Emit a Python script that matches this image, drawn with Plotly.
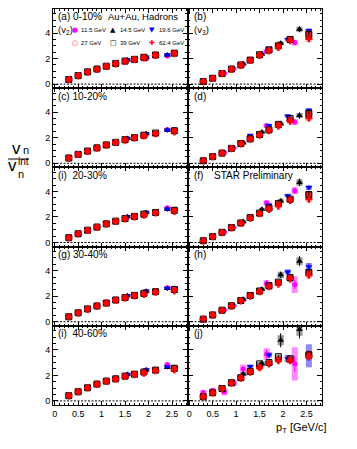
import plotly.graph_objects as go
from plotly.subplots import make_subplots

# pT bin centres (GeV/c)
PT2_LO = [0.3, 0.5, 0.7, 0.9, 1.1, 1.3, 1.55, 1.95, 2.4]          # v2: 11.5, 14.5, 19.6 GeV
PT2_HI = [0.3, 0.5, 0.7, 0.9, 1.1, 1.3, 1.5, 1.7, 1.9, 2.15, 2.55]  # v2: 27, 39, 62.4 GeV
PT3_115 = [0.3, 0.5, 0.75, 0.95, 1.15, 1.65, 2.25]
PT3_145 = [0.3, 0.5, 0.7, 0.9, 1.15, 1.55, 1.95, 2.35]
PT3_196 = [0.3, 0.5, 0.7, 0.9, 1.1, 1.3, 1.7, 2.1, 2.55]
PT3_HI = [0.3, 0.5, 0.7, 0.9, 1.1, 1.3, 1.5, 1.7, 1.9, 2.15, 2.55]

CENTRALITY = ["0-10%", "10-20%", "20-30%", "30-40%", "40-60%"]

# v2/v2int, one list per centrality
V2_115 = [[0.37, 0.66, 0.94, 1.17, 1.38, 1.58, 1.86, 1.97, 2.20],
          [0.43, 0.70, 0.96, 1.20, 1.43, 1.64, 1.93, 2.30, 2.65],
          [0.40, 0.69, 0.97, 1.21, 1.45, 1.66, 2.00, 2.33, 2.72],
          [0.40, 0.70, 1.00, 1.23, 1.46, 1.69, 2.02, 2.37, 2.66],
          [0.43, 0.74, 1.04, 1.33, 1.55, 1.75, 2.05, 2.42, 2.85]]
V2_145 = [[0.36, 0.66, 0.95, 1.18, 1.39, 1.60, 1.88, 2.08, 2.28],
          [0.42, 0.70, 0.95, 1.21, 1.44, 1.65, 1.95, 2.31, 2.58],
          [0.39, 0.68, 0.97, 1.21, 1.46, 1.67, 2.02, 2.34, 2.60],
          [0.40, 0.70, 1.00, 1.24, 1.47, 1.70, 2.04, 2.38, 2.60],
          [0.42, 0.73, 1.04, 1.33, 1.56, 1.75, 2.07, 2.42, 2.62]]
V2_196 = [[0.36, 0.66, 0.95, 1.18, 1.40, 1.61, 1.90, 2.12, 2.30],
          [0.42, 0.70, 0.96, 1.21, 1.44, 1.65, 1.96, 2.33, 2.60],
          [0.40, 0.69, 0.97, 1.21, 1.46, 1.68, 2.03, 2.36, 2.63],
          [0.40, 0.70, 1.00, 1.24, 1.47, 1.70, 2.05, 2.40, 2.62],
          [0.42, 0.73, 1.04, 1.33, 1.56, 1.76, 2.08, 2.44, 2.67]]
V2_27 = [[0.35, 0.66, 0.95, 1.18, 1.39, 1.60, 1.80, 1.93, 2.08, 2.28, 2.44],
         [0.42, 0.70, 0.95, 1.21, 1.44, 1.64, 1.84, 2.00, 2.18, 2.36, 2.56],
         [0.38, 0.68, 0.96, 1.20, 1.46, 1.67, 1.88, 2.04, 2.20, 2.36, 2.55],
         [0.39, 0.70, 1.00, 1.24, 1.47, 1.70, 1.88, 2.06, 2.20, 2.36, 2.56],
         [0.41, 0.72, 1.03, 1.32, 1.55, 1.74, 1.94, 2.10, 2.24, 2.42, 2.58]]
V2_39 = [[0.36, 0.67, 0.96, 1.18, 1.40, 1.62, 1.80, 1.94, 2.10, 2.28, 2.42],
         [0.41, 0.70, 0.96, 1.21, 1.44, 1.64, 1.85, 2.01, 2.20, 2.37, 2.55],
         [0.38, 0.69, 0.96, 1.21, 1.46, 1.67, 1.88, 2.04, 2.22, 2.35, 2.52],
         [0.39, 0.70, 1.00, 1.23, 1.46, 1.70, 1.89, 2.06, 2.22, 2.35, 2.52],
         [0.41, 0.72, 1.03, 1.32, 1.55, 1.73, 1.94, 2.09, 2.26, 2.41, 2.55]]
V2_624 = [[0.35, 0.65, 0.94, 1.16, 1.38, 1.59, 1.78, 1.92, 2.06, 2.26, 2.38],
          [0.41, 0.69, 0.94, 1.19, 1.42, 1.63, 1.82, 1.98, 2.14, 2.32, 2.46],
          [0.37, 0.67, 0.95, 1.19, 1.44, 1.65, 1.85, 2.01, 2.15, 2.31, 2.44],
          [0.38, 0.69, 0.99, 1.22, 1.45, 1.68, 1.86, 2.03, 2.14, 2.31, 2.42],
          [0.40, 0.71, 1.02, 1.30, 1.53, 1.71, 1.91, 2.06, 2.18, 2.36, 2.42]]

# v3/v3int, one list per centrality
V3_115 = [[0.20, 0.45, 0.85, 1.20, 1.55, 2.55, 3.25],
          [0.20, 0.50, 0.85, 1.20, 1.60, 2.95, 3.24],
          [0.16, 0.46, 0.82, 1.18, 1.58, 3.10, 4.05],
          [0.20, 0.55, 0.92, 1.25, 1.72, 3.00, 2.90],
          [0.65, 0.84, 0.70, 1.40, 2.50, 3.67, 2.90]]
V3_145 = [[0.20, 0.45, 0.83, 1.17, 1.60, 2.35, 3.20, 4.30],
          [0.20, 0.53, 0.80, 1.17, 1.60, 2.45, 3.10, 3.74],
          [0.15, 0.46, 0.80, 1.17, 1.65, 2.60, 3.25, 4.70],
          [0.20, 0.53, 0.90, 1.25, 1.75, 2.55, 3.67, 4.74],
          [0.33, 0.64, 0.97, 1.35, 2.10, 2.90, 4.75, 5.60]]
V3_196 = [[0.20, 0.45, 0.83, 1.17, 1.50, 2.00, 2.80, 3.50, 4.20],
          [0.20, 0.53, 0.80, 1.17, 1.55, 2.20, 2.96, 3.70, 4.16],
          [0.15, 0.46, 0.80, 1.17, 1.55, 2.00, 2.93, 3.67, 4.30],
          [0.20, 0.53, 0.90, 1.25, 1.68, 2.20, 2.95, 3.90, 4.30],
          [0.33, 0.64, 0.97, 1.44, 1.85, 2.70, 3.60, 3.30, 3.54]]
V3_27 = [[0.20, 0.45, 0.82, 1.17, 1.50, 1.88, 2.28, 2.65, 3.00, 3.45, 3.95],
         [0.20, 0.53, 0.80, 1.17, 1.55, 1.93, 2.23, 2.60, 3.00, 3.40, 3.85],
         [0.14, 0.46, 0.80, 1.17, 1.53, 1.94, 2.30, 2.68, 3.00, 3.35, 3.77],
         [0.20, 0.53, 0.88, 1.25, 1.65, 2.05, 2.40, 2.80, 3.05, 3.40, 3.80],
         [0.33, 0.64, 0.97, 1.44, 1.82, 2.30, 2.64, 2.95, 3.23, 3.20, 3.67]]
V3_39 = [[0.20, 0.46, 0.83, 1.18, 1.50, 1.88, 2.30, 2.68, 3.00, 3.50, 3.90],
         [0.20, 0.52, 0.80, 1.17, 1.55, 1.92, 2.25, 2.62, 3.05, 3.50, 3.90],
         [0.14, 0.46, 0.80, 1.17, 1.53, 1.95, 2.30, 2.70, 3.05, 3.40, 3.75],
         [0.20, 0.53, 0.90, 1.25, 1.66, 2.05, 2.40, 2.80, 3.10, 3.45, 3.85],
         [0.33, 0.64, 0.97, 1.42, 1.82, 2.30, 2.90, 3.00, 3.46, 3.30, 3.60]]
V3_624 = [[0.20, 0.44, 0.82, 1.15, 1.47, 1.85, 2.25, 2.60, 2.87, 3.40, 3.55],
          [0.20, 0.52, 0.79, 1.15, 1.52, 1.90, 2.20, 2.55, 2.90, 3.30, 3.55],
          [0.13, 0.45, 0.78, 1.15, 1.50, 1.90, 2.25, 2.60, 2.85, 3.30, 3.40],
          [0.20, 0.52, 0.88, 1.22, 1.63, 2.00, 2.35, 2.75, 2.95, 3.35, 3.65],
          [0.32, 0.62, 0.95, 1.40, 1.78, 2.25, 2.60, 2.90, 3.15, 3.15, 3.46]]

# statistical errors and half heights of the systematic boxes
ERR2_LO = [0.02, 0.02, 0.03, 0.03, 0.04, 0.05, 0.06, 0.08, 0.12]
SYS2_LO = [0.05, 0.05, 0.06, 0.06, 0.07, 0.08, 0.09, 0.10, 0.12]
ERR2_HI = [0.01, 0.01, 0.02, 0.02, 0.02, 0.03, 0.03, 0.04, 0.05, 0.06, 0.08]
SYS2_HI = [0.10, 0.10, 0.10, 0.11, 0.11, 0.11, 0.12, 0.12, 0.13, 0.14, 0.15]
ERR3_HI = [0.02, 0.02, 0.03, 0.04, 0.05, 0.06, 0.07, 0.09, 0.11, 0.14, 0.18]
SYS3_HI = [0.09, 0.09, 0.10, 0.11, 0.12, 0.13, 0.14, 0.16, 0.18, 0.21, 0.25]
ERR3_115 = [[0.04, 0.05, 0.07, 0.08, 0.10, 0.15, 0.20],
            [0.04, 0.05, 0.07, 0.08, 0.10, 0.15, 0.20],
            [0.04, 0.05, 0.07, 0.08, 0.10, 0.18, 0.25],
            [0.05, 0.06, 0.08, 0.10, 0.12, 0.25, 0.35],
            [0.10, 0.10, 0.12, 0.15, 0.20, 0.35, 0.60]]
SYS3_115 = [[0.06, 0.07, 0.08, 0.10, 0.12, 0.18, 0.22],
            [0.06, 0.07, 0.08, 0.10, 0.12, 0.18, 0.22],
            [0.06, 0.07, 0.08, 0.10, 0.12, 0.22, 0.28],
            [0.08, 0.08, 0.10, 0.12, 0.15, 0.25, 0.65],
            [0.20, 0.15, 0.25, 0.25, 0.35, 0.45, 1.30]]
ERR3_145 = [[0.03, 0.04, 0.05, 0.06, 0.08, 0.10, 0.15, 0.25],
            [0.03, 0.04, 0.05, 0.06, 0.08, 0.10, 0.15, 0.25],
            [0.03, 0.04, 0.05, 0.06, 0.08, 0.12, 0.18, 0.30],
            [0.04, 0.05, 0.06, 0.08, 0.10, 0.15, 0.25, 0.40],
            [0.06, 0.07, 0.08, 0.10, 0.15, 0.25, 0.55, 0.70]]
SYS3_145 = [[0.05, 0.06, 0.07, 0.08, 0.10, 0.12, 0.15, 0.20],
            [0.05, 0.06, 0.07, 0.08, 0.10, 0.12, 0.15, 0.20],
            [0.05, 0.06, 0.07, 0.08, 0.10, 0.12, 0.18, 0.25],
            [0.06, 0.07, 0.08, 0.10, 0.12, 0.15, 0.25, 0.30],
            [0.08, 0.08, 0.10, 0.12, 0.15, 0.20, 0.40, 0.50]]
ERR3_196 = [[0.03, 0.04, 0.05, 0.06, 0.07, 0.08, 0.10, 0.12, 0.15],
            [0.03, 0.04, 0.05, 0.06, 0.07, 0.08, 0.10, 0.12, 0.15],
            [0.03, 0.04, 0.05, 0.06, 0.07, 0.08, 0.10, 0.12, 0.18],
            [0.04, 0.05, 0.06, 0.07, 0.08, 0.10, 0.12, 0.15, 0.25],
            [0.05, 0.06, 0.07, 0.08, 0.10, 0.12, 0.15, 0.20, 0.40]]
SYS3_196 = [[0.05, 0.06, 0.07, 0.08, 0.09, 0.10, 0.12, 0.14, 0.16],
            [0.05, 0.06, 0.07, 0.08, 0.09, 0.10, 0.12, 0.14, 0.16],
            [0.05, 0.06, 0.07, 0.08, 0.09, 0.10, 0.12, 0.15, 0.18],
            [0.06, 0.07, 0.08, 0.09, 0.10, 0.12, 0.15, 0.20, 0.30],
            [0.08, 0.08, 0.09, 0.10, 0.12, 0.15, 0.20, 0.30, 0.90]]

SERIES = [
    # label, pt2, v2, err2, sys2, pt3, v3, err3, sys3, marker, box colour
    ("11.5 GeV", PT2_LO, V2_115, ERR2_LO, SYS2_LO, PT3_115, V3_115, ERR3_115, SYS3_115,
     dict(symbol="circle", color="#ff00ff", size=5), "rgba(255,0,255,0.45)"),
    ("14.5 GeV", PT2_LO, V2_145, ERR2_LO, SYS2_LO, PT3_145, V3_145, ERR3_145, SYS3_145,
     dict(symbol="triangle-up", color="black", size=6), "rgba(60,60,60,0.55)"),
    ("19.6 GeV", PT2_LO, V2_196, ERR2_LO, SYS2_LO, PT3_196, V3_196, ERR3_196, SYS3_196,
     dict(symbol="triangle-down", color="#0000ff", size=6), "rgba(0,0,255,0.45)"),
    ("27 GeV", PT2_HI, V2_27, ERR2_HI, SYS2_HI, PT3_HI, V3_27, ERR3_HI, SYS3_HI,
     dict(symbol="circle-open", color="#ff0000", size=5, line=dict(width=1.5)), "rgba(255,0,0,0.3)"),
    ("39 GeV", PT2_HI, V2_39, ERR2_HI, SYS2_HI, PT3_HI, V3_39, ERR3_HI, SYS3_HI,
     dict(symbol="square-open", color="black", size=6, line=dict(width=1)), "rgba(50,50,50,0.55)"),
    ("62.4 GeV", PT2_HI, V2_624, ERR2_HI, SYS2_HI, PT3_HI, V3_624, ERR3_HI, SYS3_HI,
     dict(symbol="cross", color="#ff0000", size=6), "rgba(255,0,0,0.3)"),
]

# the page puts the figure 8 px in from the window's top-left corner
PAGE = 8
W, H = 357 - PAGE, 449 - PAGE
ML, MR, MT, MB = 53 - PAGE, 34.5, 1, 44
PW, PH = W - ML - MR, H - MT - MB
COLW, ROWH = PW / 2, PH / 5
FONT = "Liberation Sans, Arial, sans-serif"


def per_row(a, r):
    return a[r] if isinstance(a[0], list) else a


fig = make_subplots(rows=5, cols=2, shared_xaxes=True, shared_yaxes=True,
                    horizontal_spacing=0, vertical_spacing=0)

for r in range(5):
    for c in range(2):
        for (lab, pt2, v2, e2, s2, pt3, v3, e3, s3, mk, box) in SERIES:
            pt = pt2 if c == 0 else pt3
            val = per_row(v2 if c == 0 else v3, r)
            sys = per_row(s2 if c == 0 else s3, r)
            fig.add_trace(go.Bar(x=pt, y=[2 * s for s in sys],
                                 base=[v - s for v, s in zip(val, sys)],
                                 width=0.13, marker=dict(color=box, line=dict(width=0)),
                                 showlegend=False, hoverinfo="skip"),
                          row=r + 1, col=c + 1)
        for (lab, pt2, v2, e2, s2, pt3, v3, e3, s3, mk, box) in SERIES:
            pt = pt2 if c == 0 else pt3
            val = per_row(v2 if c == 0 else v3, r)
            err = per_row(e2 if c == 0 else e3, r)
            fig.add_trace(go.Scatter(x=pt, y=val, mode="markers", marker=mk, name=lab,
                                     error_y=dict(type="data", array=err, color=mk["color"],
                                                  thickness=1, width=0),
                                     showlegend=False),
                          row=r + 1, col=c + 1)
        fig.add_hline(y=0, line=dict(color="black", width=1, dash="2px,1.5px"),
                      row=r + 1, col=c + 1)

fig.update_xaxes(range=[-0.036, 2.83], dtick=0.5, tick0=0, ticks="inside", ticklen=4,
                 tickcolor="black", showline=True, linecolor="black", linewidth=1,
                 mirror="ticks", showgrid=False, zeroline=False,
                 tickfont=dict(family=FONT, size=9, color="black"),
                 minor=dict(dtick=0.1, ticks="inside", ticklen=2, tickcolor="black",
                            showgrid=False))
fig.update_yaxes(range=[-0.32, 5.88], dtick=2, tick0=0, ticks="inside", ticklen=5,
                 tickcolor="black", showline=True, linecolor="black", linewidth=1,
                 mirror="ticks", showgrid=False, zeroline=False,
                 tickfont=dict(family=FONT, size=9, color="black"),
                 minor=dict(dtick=0.5, ticks="inside", ticklen=2.5, tickcolor="black",
                            showgrid=False))


def panel_text(r, c, dx, dy, text, size=10, xanchor="left", family=FONT, color="black"):
    idx = (r - 1) * 2 + c
    s = "" if idx == 1 else str(idx)
    fig.add_annotation(xref="x" + s + " domain", yref="y" + s + " domain",
                       x=dx / COLW, y=1 - dy / ROWH, text=text, showarrow=False,
                       xanchor=xanchor, yanchor="middle",
                       font=dict(family=family, size=size, color=color))


def page_text(px, py, text, size, xanchor="center"):
    # px, py are window pixels
    fx, fy = px - PAGE, py - PAGE
    fig.add_annotation(xref="paper", yref="paper", x=(fx - ML) / PW, y=1 - (fy - MT) / PH,
                       text=text, showarrow=False, xanchor=xanchor, yanchor="middle",
                       font=dict(family=FONT, size=size, color="black"))


labels = ["(a) 0-10%", "(c) 10-20%", "(i)\u00a0\u00a020-30%", "(g) 30-40%", "(i)\u00a0\u00a040-60%"]
right = ["(b)", "(d)", "(f)", "(h)", "(j)"]
for r in range(5):
    panel_text(r + 1, 1, 3.5, 8, labels[r])
    panel_text(r + 1, 2, 5, 8, right[r])
panel_text(1, 1, 53, 8, "Au+Au, Hadrons", size=9.5)
panel_text(3, 2, 25, 8, "STAR Preliminary")
panel_text(1, 1, 3, 21, "(v<sub>2</sub>)", size=9.5)
panel_text(1, 2, 5, 21, "(v<sub>3</sub>)", size=9.5)

# legend keys drawn as glyphs
legend_keys = [("\u25cf", "#ff00ff"), ("\u25b2", "black"), ("\u25bc", "#0000ff"),
               ("\u25cb", "#ff0000"), ("\u25a1", "black"), ("\u271a", "#ff0000")]
for i, (lab, *_rest) in enumerate(SERIES):
    col, row = i % 3, i // 3
    dx = 21.8 + 38.7 * col
    dy = 21 + 13.5 * row
    panel_text(1, 1, dx, dy, legend_keys[i][0], size=7, xanchor="center",
               family="DejaVu Sans", color=legend_keys[i][1])
    panel_text(1, 1, dx + 4.5, dy, lab, size=6)

# y title: vn / vn^int
page_text(16.5, 148, "v", 17)
page_text(25.5, 150.5, "n", 11)
page_text(12.5, 166, "v", 17)
page_text(23, 161.5, "int", 10)
page_text(21, 173.5, "n", 11)
fig.add_shape(type="line", xref="paper", yref="paper",
              x0=(8 - PAGE - ML) / PW, x1=(29 - PAGE - ML) / PW,
              y0=1 - (159 - PAGE - MT) / PH, y1=1 - (159 - PAGE - MT) / PH,
              line=dict(color="black", width=1))
page_text(330, 428, "p<sub>T</sub> [GeV/c]", 11, xanchor="right")

fig.update_layout(width=W, height=H, margin=dict(l=ML, r=MR, t=MT, b=MB),
                  paper_bgcolor="white", plot_bgcolor="white", barmode="overlay",
                  showlegend=False, font=dict(family=FONT, color="black"))

fig.write_html("out.html")
